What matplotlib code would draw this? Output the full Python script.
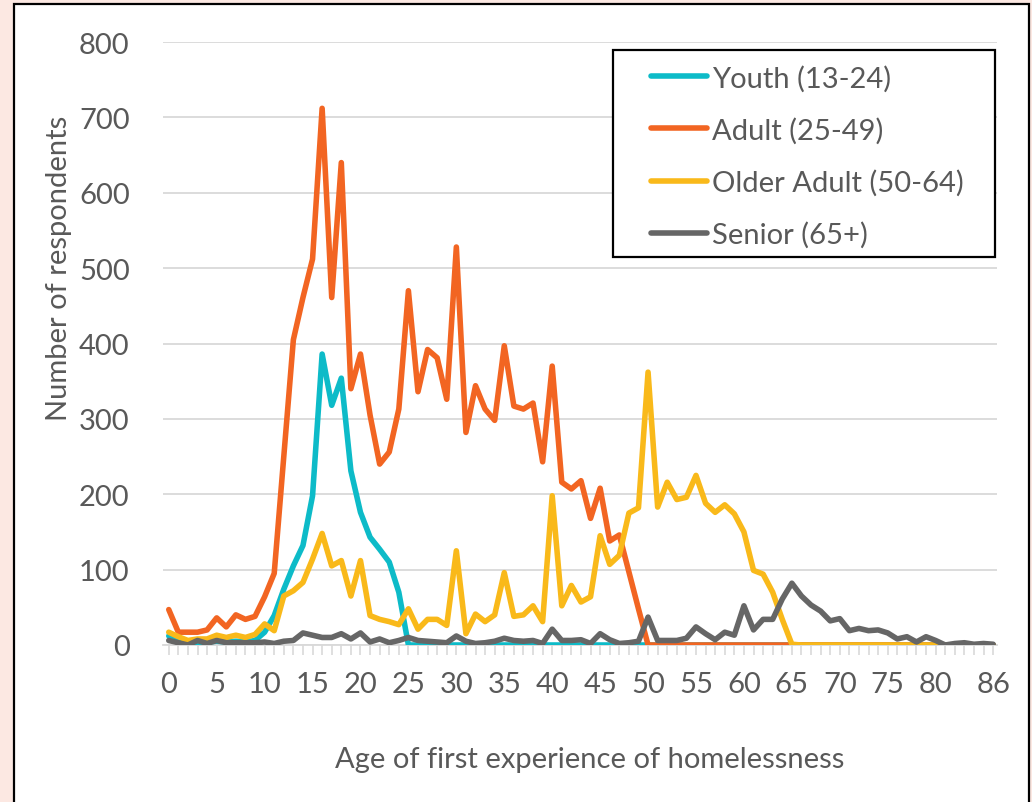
import matplotlib
matplotlib.use("Agg")
import matplotlib.pyplot as plt
from matplotlib.patches import Rectangle

# ---------------------------------------------------------------------------
# Respondents by age of first experience of homelessness, per age group
# ---------------------------------------------------------------------------

ages = list(range(0, 87))

youth = [12, 6, 3, 2, 4, 5, 4, 5, 4, 6,
         17, 39, 74, 105, 132, 198, 386, 318, 354, 231,
         176, 143, 127, 110, 70] + [0] * 62

adult = [47, 17, 17, 17, 20, 36, 24, 40, 34, 38,
         64, 95, 250, 405, 461, 512, 712, 461, 640, 340,
         386, 305, 240, 256, 313, 470, 336, 392, 381, 326,
         528, 282, 344, 313, 298, 397, 317, 313, 321, 243,
         370, 216, 207, 218, 168, 208, 138, 146, 97, 48] + [0] * 37

older_adult = [17, 11, 6, 8, 8, 13, 10, 13, 10, 14,
               28, 19, 65, 72, 83, 114, 148, 105, 112, 65,
               112, 39, 34, 31, 27, 48, 21, 34, 34, 26,
               125, 15, 41, 31, 40, 96, 38, 40, 52, 31,
               198, 52, 79, 57, 64, 145, 107, 119, 175, 182,
               362, 183, 216, 193, 196, 225, 188, 176, 186, 174,
               150, 99, 94, 70, 34, 1] + [0] * 21

senior = [6, 3, 0, 6, 2, 6, 3, 3, 3, 3,
          4, 2, 5, 6, 16, 13, 10, 10, 15, 8,
          16, 4, 8, 3, 6, 10, 6, 5, 4, 3,
          12, 5, 2, 3, 5, 9, 6, 5, 6, 2,
          21, 6, 6, 7, 2, 15, 7, 2, 3, 5,
          37, 6, 6, 6, 9, 24, 15, 7, 17, 13,
          52, 20, 34, 34, 61, 82, 65, 53, 45, 32,
          35, 19, 22, 19, 20, 16, 8, 11, 4, 11,
          6, 0, 2, 3, 1, 2, 1]

series = [
    ("Youth (13-24)", youth, "#0DBBC8"),
    ("Adult (25-49)", adult, "#F26522"),
    ("Older Adult (50-64)", older_adult, "#F9B91A"),
    ("Senior (65+)", senior, "#666666"),
]

x_labels = [str(a) if (a % 5 == 0 and a <= 80) or a == 86 else "" for a in ages]
y_ticks = list(range(0, 801, 100))

TEXT = "#595959"
GRID = "#D9D9D9"
FS = 21

plt.rcParams["font.family"] = ["Lato", "DejaVu Sans"]

W, H = 1032, 803
fig = plt.figure(figsize=(W / 100, H / 100), dpi=100)
fig.patch.set_facecolor("#FCE8E2")

# white chart card with black frame, behind everything
fig.patches.append(Rectangle((14 / W, -0.02), 1015 / W, 1.02 - 5 / H,
                             transform=fig.transFigure, facecolor="white",
                             edgecolor="black", linewidth=1.6, zorder=-10))

ax = fig.add_axes([163 / W, 1 - 646 / H, 834 / W, 603 / H], zorder=1)
ax.set_facecolor("none")

for label, values, color in series:
    ax.plot(ages, values, color=color, linewidth=4.0, label=label,
            solid_joinstyle="round", solid_capstyle="round", zorder=3)

ax.set_xlim(-0.6, 86.4)
ax.set_ylim(0, 800)
ax.set_xticks(ages)
ax.set_xticklabels(x_labels)
ax.set_yticks(y_ticks)
ax.tick_params(axis="x", length=7, width=1.2, color=GRID, pad=12,
               labelsize=FS, labelcolor=TEXT)
ax.tick_params(axis="y", length=0, pad=24, labelsize=FS, labelcolor=TEXT)

ax.grid(axis="y", color=GRID, linewidth=1.3, zorder=1)
ax.set_axisbelow(True)
for side in ("top", "right", "left"):
    ax.spines[side].set_visible(False)
ax.spines["bottom"].set_color(GRID)
ax.spines["bottom"].set_linewidth(1.3)

ax.set_ylabel("Number of respondents", fontsize=FS, color=TEXT)
ax.yaxis.set_label_coords(-0.109, 0.627)
ax.set_xlabel("Age of first experience of homelessness", fontsize=FS, color=TEXT)
ax.xaxis.set_label_coords(0.512, -0.168)

# legend box with its own frame
ax.add_patch(Rectangle((613 / W, 1 - 258 / H), 382 / W, 207 / H,
                       transform=fig.transFigure, facecolor="white",
                       edgecolor="black", linewidth=1.6, zorder=5,
                       clip_on=False))
leg = ax.legend(loc="upper left", bbox_to_anchor=(631 / W, 1 - 45 / H),
                bbox_transform=fig.transFigure, frameon=False,
                fontsize=FS, handlelength=1.9, handletextpad=0.17,
                labelspacing=0.87, borderpad=0.2)
for t in leg.get_texts():
    t.set_color(TEXT)
leg.set_zorder(6)

fig.savefig("out.png", dpi=100, facecolor=fig.get_facecolor())
